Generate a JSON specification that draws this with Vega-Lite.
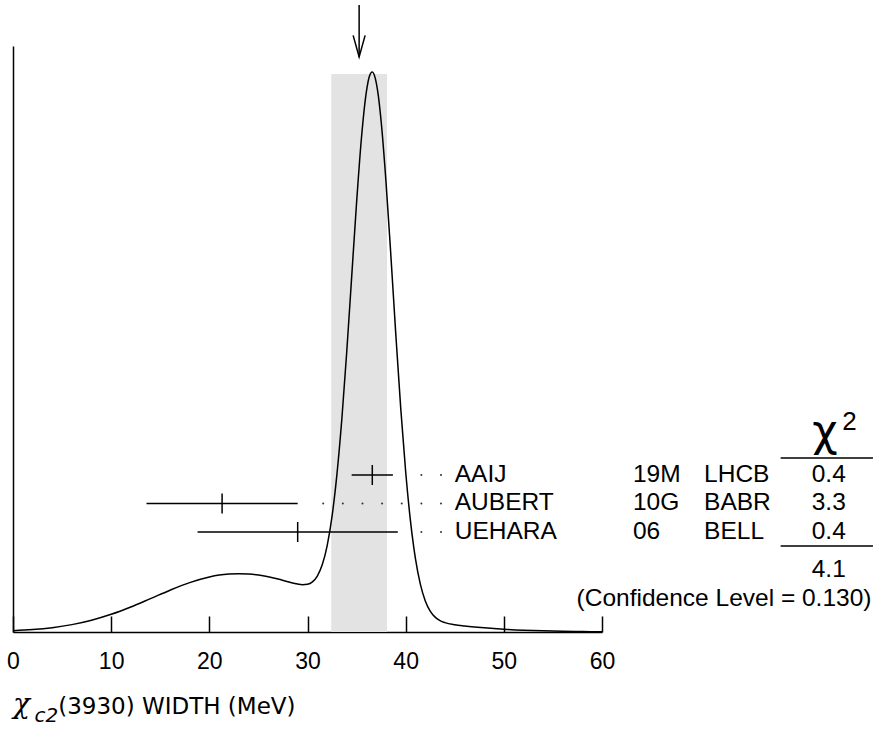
{
  "$schema": "https://vega.github.io/schema/vega-lite/v6.json",
  "width": 589,
  "height": 586,
  "autosize": {"type": "none"},
  "padding": {"left": 13, "top": 46, "right": 271, "bottom": 99},
  "background": "white",
  "config": {
    "view": {"stroke": null},
    "axis": {"zindex": 1},
    "text": {"font": "Liberation Sans", "fontSize": 24.5, "color": "black"}
  },
  "resolve": {"scale": {"y": "independent"}},
  "layer": [
    {
      "layer": [
        {
          "data": {"values": [{"mean": 35.26, "lo": 32.42, "hi": 38.1}]},
          "mark": {"type": "rect", "color": "#e3e3e3"},
          "encoding": {
            "x": {"field": "lo", "type": "quantitative", "scale": {"domain": [0, 60], "nice": false, "zero": false}, "title": null},
            "x2": {"field": "hi"},
            "y": {"datum": 0, "type": "quantitative", "scale": {"domain": [0, 246.7], "nice": false, "zero": false}},
            "y2": {"datum": 234.9}
          }
        },
        {
          "data": {"values": [
            {"x": 0, "f": 0.54}, {"x": 2, "f": 1.02}, {"x": 4, "f": 1.83}, {"x": 6, "f": 3.1}, {"x": 8, "f": 4.95},
            {"x": 10, "f": 7.44}, {"x": 12, "f": 10.53}, {"x": 14, "f": 14.03}, {"x": 16, "f": 17.59}, {"x": 18, "f": 20.78},
            {"x": 20, "f": 23.16}, {"x": 21, "f": 23.95}, {"x": 22, "f": 24.41}, {"x": 23, "f": 24.57}, {"x": 24, "f": 24.4},
            {"x": 25, "f": 23.95}, {"x": 26, "f": 23.22}, {"x": 27, "f": 22.27}, {"x": 28, "f": 21.18}, {"x": 29, "f": 20.18},
            {"x": 29.5, "f": 19.93}, {"x": 30, "f": 20.12}, {"x": 30.5, "f": 21.13}, {"x": 31, "f": 23.57}, {"x": 31.5, "f": 28.27},
            {"x": 32, "f": 36.27}, {"x": 32.5, "f": 48.68}, {"x": 33, "f": 66.44}, {"x": 33.5, "f": 89.8}, {"x": 34, "f": 118.1},
            {"x": 34.5, "f": 149.5}, {"x": 35, "f": 180.8}, {"x": 35.5, "f": 208.2}, {"x": 36, "f": 227.5}, {"x": 36.3, "f": 233.9},
            {"x": 36.6, "f": 235.8}, {"x": 36.9, "f": 233.2}, {"x": 37.2, "f": 226.2}, {"x": 37.5, "f": 215.0}, {"x": 38, "f": 189.3},
            {"x": 38.5, "f": 158.0}, {"x": 39, "f": 125.0}, {"x": 39.5, "f": 94.05}, {"x": 40, "f": 67.44}, {"x": 40.5, "f": 46.33},
            {"x": 41, "f": 30.76}, {"x": 41.5, "f": 20.03}, {"x": 42, "f": 13.08}, {"x": 42.5, "f": 8.79}, {"x": 43, "f": 6.26},
            {"x": 43.5, "f": 4.8}, {"x": 44, "f": 3.94}, {"x": 45, "f": 3.03}, {"x": 46, "f": 2.51}, {"x": 47, "f": 2.09},
            {"x": 48, "f": 1.74}, {"x": 50, "f": 1.17}, {"x": 52, "f": 0.76}, {"x": 54, "f": 0.48}, {"x": 56, "f": 0.29},
            {"x": 58, "f": 0.17}, {"x": 60, "f": 0.1}
          ]},
          "mark": {"type": "line", "color": "black", "strokeWidth": 1.5, "interpolate": "monotone"},
          "encoding": {
            "x": {"field": "x", "type": "quantitative", "scale": {"domain": [0, 60], "nice": false, "zero": false}, "title": null,
                  "axis": {"values": [0, 10, 20, 30, 40, 50, 60], "tickSize": -16, "tickColor": "black", "tickWidth": 1.5, "domainColor": "black", "domainWidth": 1.5, "labelFont": "Liberation Sans", "labelFontSize": 23, "labelColor": "black", "labelPadding": 34, "labelFlush": false, "grid": false, "title": null}},
            "y": {"field": "f", "type": "quantitative", "scale": {"domain": [0, 246.7], "nice": false, "zero": false}, "title": null,
                  "axis": {"ticks": false, "labels": false, "grid": false, "domainColor": "black", "domainWidth": 1.5, "title": null}}
          }
        },
        {
          "data": {"values": [{"mean": 35.26, "lo": 32.42, "hi": 38.1}]},
          "mark": {"type": "rule", "color": "black", "strokeWidth": 1.5},
          "encoding": {
            "x": {"field": "mean", "type": "quantitative", "scale": {"domain": [0, 60], "nice": false, "zero": false}, "title": null},
            "y": {"datum": 264, "type": "quantitative", "scale": {"domain": [0, 246.7], "nice": false, "zero": false}},
            "y2": {"datum": 242.1}
          }
        },
        {
          "data": {"values": [{"mean": 35.26, "lo": 32.42, "hi": 38.1}]},
          "mark": {"type": "point", "shape": "M-0.5,-1.8L0,0L0.5,-1.8", "filled": false, "color": "black", "strokeWidth": 1.5, "size": 576, "opacity": 1},
          "encoding": {
            "x": {"field": "mean", "type": "quantitative", "scale": {"domain": [0, 60], "nice": false, "zero": false}, "title": null},
            "y": {"datum": 242.1, "type": "quantitative", "scale": {"domain": [0, 246.7], "nice": false, "zero": false}}
          }
        }
      ]
    },
    {
      "layer": [
        {
          "data": {"name": "meas", "values": [
            {"author": "AAIJ", "code": "19M", "exp": "LHCB", "value": 36.6, "lo": 34.5, "hi": 38.7, "chi2": "0.4", "row": 1},
            {"author": "AUBERT", "code": "10G", "exp": "BABR", "value": 21.3, "lo": 13.6, "hi": 29.0, "chi2": "3.3", "row": 2},
            {"author": "UEHARA", "code": "06", "exp": "BELL", "value": 29.0, "lo": 18.8, "hi": 39.2, "chi2": "0.4", "row": 3}
          ]},
          "layer": [
            {
              "mark": {"type": "rule", "color": "black", "strokeWidth": 1.5},
              "encoding": {
                "x": {"field": "lo", "type": "quantitative", "scale": {"domain": [0, 60], "nice": false, "zero": false}, "title": null},
                "x2": {"field": "hi"},
                "y": {"field": "row", "type": "quantitative", "scale": {"domain": [-14.053, 6.509], "nice": false, "zero": false, "reverse": true}, "axis": null}
              }
            },
            {
              "mark": {"type": "point", "shape": "M0,-1L0,1", "filled": false, "color": "black", "strokeWidth": 1.5, "size": 400, "opacity": 1},
              "encoding": {
                "x": {"field": "value", "type": "quantitative", "scale": {"domain": [0, 60], "nice": false, "zero": false}, "title": null},
                "y": {"field": "row", "type": "quantitative", "scale": {"domain": [-14.053, 6.509], "nice": false, "zero": false, "reverse": true}, "axis": null}
              }
            },
            {
              "mark": {"type": "text", "align": "left", "baseline": "middle"},
              "encoding": {
                "x": {"datum": 45.0, "type": "quantitative", "scale": {"domain": [0, 60], "nice": false, "zero": false}},
                "y": {"field": "row", "type": "quantitative", "scale": {"domain": [-14.053, 6.509], "nice": false, "zero": false, "reverse": true}, "axis": null},
                "text": {"field": "author"}
              }
            },
            {
              "mark": {"type": "text", "align": "left", "baseline": "middle"},
              "encoding": {
                "x": {"datum": 63.15, "type": "quantitative", "scale": {"domain": [0, 60], "nice": false, "zero": false}},
                "y": {"field": "row", "type": "quantitative", "scale": {"domain": [-14.053, 6.509], "nice": false, "zero": false, "reverse": true}, "axis": null},
                "text": {"field": "code"}
              }
            },
            {
              "mark": {"type": "text", "align": "left", "baseline": "middle"},
              "encoding": {
                "x": {"datum": 70.4, "type": "quantitative", "scale": {"domain": [0, 60], "nice": false, "zero": false}},
                "y": {"field": "row", "type": "quantitative", "scale": {"domain": [-14.053, 6.509], "nice": false, "zero": false, "reverse": true}, "axis": null},
                "text": {"field": "exp"}
              }
            },
            {
              "mark": {"type": "text", "align": "center", "baseline": "middle"},
              "encoding": {
                "x": {"datum": 83.1, "type": "quantitative", "scale": {"domain": [0, 60], "nice": false, "zero": false}},
                "y": {"field": "row", "type": "quantitative", "scale": {"domain": [-14.053, 6.509], "nice": false, "zero": false, "reverse": true}, "axis": null},
                "text": {"field": "chi2"}
              }
            }
          ]
        },
        {
          "data": {"values": [
            {"row": 1, "x": 41.6}, {"row": 1, "x": 43.6},
            {"row": 2, "x": 31.6}, {"row": 2, "x": 33.6}, {"row": 2, "x": 35.6}, {"row": 2, "x": 37.6}, {"row": 2, "x": 39.6}, {"row": 2, "x": 41.6}, {"row": 2, "x": 43.6},
            {"row": 3, "x": 41.6}, {"row": 3, "x": 43.6}
          ]},
          "mark": {"type": "point", "shape": "circle", "filled": true, "color": "#333", "size": 4, "opacity": 1},
          "encoding": {
            "x": {"field": "x", "type": "quantitative", "scale": {"domain": [0, 60], "nice": false, "zero": false}, "title": null},
            "y": {"field": "row", "type": "quantitative", "scale": {"domain": [-14.053, 6.509], "nice": false, "zero": false, "reverse": true}, "axis": null}
          }
        },
        {
          "data": {"values": [{"total": "4.1", "cl": "(Confidence Level = 0.130)"}]},
          "layer": [
            {
              "mark": {"type": "rule", "color": "black", "strokeWidth": 1.5},
              "encoding": {
                "x": {"datum": 78.2, "type": "quantitative", "scale": {"domain": [0, 60], "nice": false, "zero": false}},
                "x2": {"datum": 87.6},
                "y": {"datum": 0.404, "type": "quantitative", "scale": {"domain": [-14.053, 6.509], "nice": false, "zero": false, "reverse": true}, "axis": null}
              }
            },
            {
              "mark": {"type": "rule", "color": "black", "strokeWidth": 1.5},
              "encoding": {
                "x": {"datum": 78.2, "type": "quantitative", "scale": {"domain": [0, 60], "nice": false, "zero": false}},
                "x2": {"datum": 87.6},
                "y": {"datum": 3.49, "type": "quantitative", "scale": {"domain": [-14.053, 6.509], "nice": false, "zero": false, "reverse": true}, "axis": null}
              }
            },
            {
              "mark": {"type": "text", "align": "center", "baseline": "middle"},
              "encoding": {
                "x": {"datum": 83.1, "type": "quantitative", "scale": {"domain": [0, 60], "nice": false, "zero": false}},
                "y": {"datum": 4.33, "type": "quantitative", "scale": {"domain": [-14.053, 6.509], "nice": false, "zero": false, "reverse": true}, "axis": null},
                "text": {"field": "total"}
              }
            },
            {
              "mark": {"type": "text", "align": "right", "baseline": "middle"},
              "encoding": {
                "x": {"datum": 87.45, "type": "quantitative", "scale": {"domain": [0, 60], "nice": false, "zero": false}},
                "y": {"datum": 5.35, "type": "quantitative", "scale": {"domain": [-14.053, 6.509], "nice": false, "zero": false, "reverse": true}, "axis": null},
                "text": {"field": "cl"}
              }
            },
            {
              "mark": {"type": "text", "align": "center", "baseline": "alphabetic", "fontSize": 44, "font": "DejaVu Sans"},
              "encoding": {
                "x": {"datum": 82.7, "type": "quantitative", "scale": {"domain": [0, 60], "nice": false, "zero": false}},
                "y": {"datum": 0.0, "type": "quantitative", "scale": {"domain": [-14.053, 6.509], "nice": false, "zero": false, "reverse": true}, "axis": null},
                "text": {"value": "χ"}
              }
            },
            {
              "mark": {"type": "text", "align": "center", "baseline": "alphabetic", "fontSize": 26},
              "encoding": {
                "x": {"datum": 85.2, "type": "quantitative", "scale": {"domain": [0, 60], "nice": false, "zero": false}},
                "y": {"datum": -0.58, "type": "quantitative", "scale": {"domain": [-14.053, 6.509], "nice": false, "zero": false, "reverse": true}, "axis": null},
                "text": {"value": "2"}
              }
            },
            {
              "mark": {"type": "text", "align": "left", "baseline": "alphabetic", "fontSize": 28, "fontStyle": "italic", "font": "DejaVu Serif"},
              "encoding": {
                "x": {"datum": 0.0, "type": "quantitative", "scale": {"domain": [0, 60], "nice": false, "zero": false}},
                "y": {"datum": 9.35, "type": "quantitative", "scale": {"domain": [-14.053, 6.509], "nice": false, "zero": false, "reverse": true}, "axis": null},
                "text": {"value": "χ"}
              }
            },
            {
              "mark": {"type": "text", "align": "left", "baseline": "alphabetic", "fontSize": 20, "fontStyle": "italic", "font": "DejaVu Sans"},
              "encoding": {
                "x": {"datum": 2.2, "type": "quantitative", "scale": {"domain": [0, 60], "nice": false, "zero": false}},
                "y": {"datum": 9.65, "type": "quantitative", "scale": {"domain": [-14.053, 6.509], "nice": false, "zero": false, "reverse": true}, "axis": null},
                "text": {"value": "c2"}
              }
            },
            {
              "mark": {"type": "text", "align": "left", "baseline": "middle", "fontSize": 23, "font": "DejaVu Sans"},
              "encoding": {
                "x": {"datum": 4.6, "type": "quantitative", "scale": {"domain": [0, 60], "nice": false, "zero": false}},
                "y": {"datum": 9.15, "type": "quantitative", "scale": {"domain": [-14.053, 6.509], "nice": false, "zero": false, "reverse": true}, "axis": null},
                "text": {"value": "(3930) WIDTH (MeV)"}
              }
            }
          ]
        }
      ]
    }
  ]
}
